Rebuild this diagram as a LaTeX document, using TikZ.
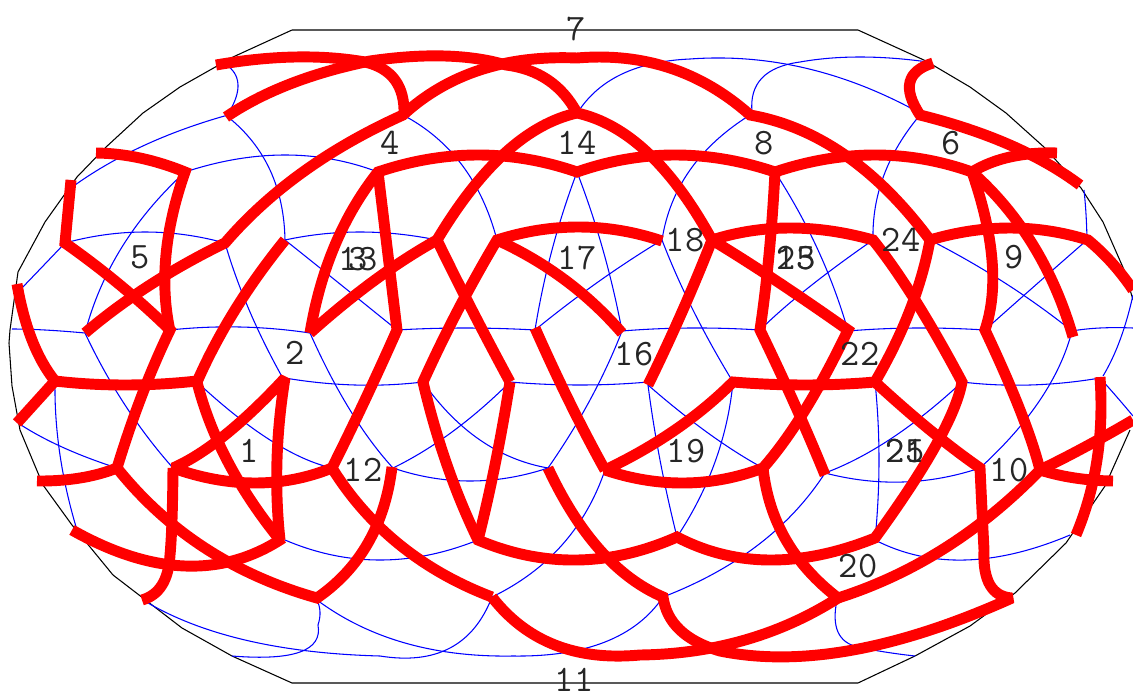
\documentclass[tikz,border=0pt]{standalone}
\usetikzlibrary{calc}
\newcommand\Q[3]{.. controls ($1.3333*(#2)-0.3333*(#3)$) and ($1.3333*(#2)-0.3333*(#1)$) .. (#3)}
\newcommand\bluearc[3]{\draw[bl] (#1) \Q{#1}{#2}{#3};}
\tikzset{
 rd/.style={draw=red,line width=8.2pt,line join=miter,miter limit=2},
 bl/.style={draw=blue,line width=0.8pt},
 outl/.style={draw=black,line width=0.8pt},
 lab/.style={font=\fontsize{28}{30}\selectfont\ttfamily,text=black!85,inner sep=0pt}
}
\begin{document}
\begin{tikzpicture}[x=0.75pt,y=-0.75pt]
\useasboundingbox (0,0) rectangle (1133,693);
% outline
\draw[outl] (292,30)--(858,30)--(926,61)--(970,87)--(1006,113)--(1045,148)--(1081,188)--(1103,222)--(1125,272)--(1133,300);
\draw[outl] (292,30)--(233,57)--(180,87)--(143,113)--(105,148)--(77,177)--(45,222)--(18,272)--(10,330)--(9,343)--(12,386)--(20,430)--(43,485)--(72,525)--(113,575)--(182,628)--(232,656)--(292,683)--(858,683)--(915,656)--(970,626)--(1015,593)--(1066,543)--(1105,486)--(1130,430);
% blue net
\bluearc{12,329}{45,330}{85,333}
\bluearc{170,330}{240,327}{310,333}
\bluearc{397,330}{465,328}{535,330}
\bluearc{622,331}{690,328}{760,330}
\bluearc{848,331}{915,328}{985,330}
\bluearc{1072,331}{1100,328}{1133,328}
\bluearc{285,378}{355,385}{423,382}
\bluearc{510,382}{580,385}{648,382}
\bluearc{962,382}{1030,385}{1100,378}
\bluearc{65,243}{145,232}{225,243}
\bluearc{285,240}{360,232}{437,240}
\bluearc{185,172}{285,155}{378,172}
\bluearc{75,185}{145,145}{228,115}
\bluearc{403,115}{462,165}{497,240}
\bluearc{228,117}{270,170}{285,240}
\bluearc{226,117}{238,87}{228,66}
\bluearc{577,172}{552,250}{535,330}
\bluearc{577,172}{603,250}{622,331}
\bluearc{662,240}{598,282}{535,330}
\bluearc{662,240}{693,310}{733,382}
\bluearc{775,172}{818,250}{848,331}
\bluearc{873,240}{808,288}{760,330}
\bluearc{920,115}{884,175}{873,240}
\bluearc{930,240}{1005,283}{1072,331}
\bluearc{1087,240}{1030,290}{985,330}
\bluearc{1087,240}{1086,214}{1084,190}
\draw[bl] (578,112) \Q{578,112}{622,74}{690,59} \Q{690,59}{805,68}{918,112};
\draw[bl] (752,112) \Q{752,112}{762,78}{800,62} \Q{800,62}{860,57}{928,62};
\bluearc{85,333}{122,247}{185,172}
\bluearc{65,243}{44,265}{20,290}
\bluearc{225,243}{250,312}{285,382}
\bluearc{285,240}{335,280}{397,330}
\bluearc{423,382}{480,440}{548,468}
\bluearc{510,382}{452,432}{393,468}
\bluearc{393,468}{470,481}{548,468}
\bluearc{622,331}{590,400}{548,468}
\bluearc{605,470}{562,545}{492,597}
\bluearc{285,540}{380,560}{478,540}
\bluearc{332,468}{270,440}{197,382}
\bluearc{310,333}{350,410}{393,468}
\bluearc{85,333}{125,405}{173,468}
\bluearc{117,468}{62,447}{18,423}
\bluearc{55,382}{60,455}{77,530}
\draw[bl] (143,600) \Q{143,600}{245,640}{380,656} \Q{380,656}{450,648}{492,597};
\draw[bl] (232,656) \Q{232,656}{300,652}{318,625} \Q{318,625}{320,612}{317,600};
\draw[bl] (317,600) \Q{317,600}{405,643}{513,656} \Q{513,656}{605,642}{663,597};
\bluearc{648,385}{660,460}{677,537}
\bluearc{733,382}{715,462}{677,537}
\bluearc{648,385}{708,433}{763,468}
\bluearc{663,597}{758,545}{825,473}
\bluearc{825,473}{903,482}{980,468}
\bluearc{825,473}{892,438}{962,382}
\bluearc{875,382}{879,460}{875,540}
\bluearc{875,540}{965,560}{1070,535}
\draw[bl] (837,600) \Q{837,600}{838,632}{858,647} \Q{858,647}{885,652}{915,656};
\bluearc{1100,378}{1116,396}{1133,416}
\bluearc{1133,295}{1120,340}{1103,376}
\bluearc{1072,331}{1040,400}{980,468}
\bluearc{750,115}{690,170}{662,240}
% red net
\draw[rd] (216,65) \Q{216,65}{295,57}{365,62} \Q{365,62}{395,80}{404,115};
\draw[rd] (226,117) \Q{226,117}{290,84}{370,61} \Q{370,61}{445,56}{506,65} \Q{506,65}{548,80}{577,113};
\draw[rd] (85,333) \Q{85,333}{150,285}{225,243} \Q{225,243}{303,172}{403,115} \Q{403,115}{480,70}{577,58} \Q{577,58}{670,68}{750,115} \Q{750,115}{845,155}{930,240} \Q{930,240}{910,310}{875,382};
\draw[rd] (310,333) \Q{310,333}{375,280}{437,240} \Q{437,240}{505,153}{577,113} \Q{577,113}{648,153}{712,240} \Q{712,240}{682,312}{648,385};
\draw[rd] (662,241) \Q{662,241}{580,227}{497,240} \Q{497,240}{458,310}{423,382} \Q{423,382}{447,465}{478,540} \Q{478,540}{577,560}{677,537} \Q{677,537}{770,560}{875,538} \Q{875,538}{936,445}{962,382} \Q{962,382}{915,300}{873,240} \Q{873,240}{790,228}{712,240} \Q{712,240}{775,280}{848,330} \Q{848,330}{805,410}{763,468} \Q{763,468}{685,483}{605,470} \Q{605,470}{675,430}{733,382} \Q{733,382}{805,385}{875,382} \Q{875,382}{930,430}{980,468} \Q{980,468}{982,510}{984,550} \Q{984,550}{990,585}{1012,598} \Q{1012,598}{853,650}{720,651} \Q{720,651}{680,630}{663,597} \Q{663,597}{600,550}{548,468};
\draw[rd] (930,240) \Q{930,240}{1010,228}{1088,240} \Q{1088,240}{1112,263}{1133,290};
\draw[rd] (497,240) \Q{497,240}{565,280}{622,333};
\draw[rd] (605,470) \Q{605,470}{570,403}{535,328};
\draw[rd] (492,597) \Q{492,597}{555,645}{640,655} \Q{640,655}{745,640}{838,598} \Q{838,598}{786,540}{763,468};
\draw[rd] (838,598) \Q{838,598}{945,548}{1040,470} \Q{1040,470}{1085,447}{1133,420};
\draw[rd] (1113,481) \Q{1113,481}{1075,478}{1040,470} \Q{1040,470}{1020,410}{985,330} \Q{985,330}{992,260}{972,172} \Q{972,172}{1033,245}{1073,337};
\draw[rd] (1057,153) \Q{1057,153}{1010,157}{972,172} \Q{972,172}{875,155}{775,172} \Q{775,172}{675,155}{577,172} \Q{577,172}{478,155}{378,172} \Q{378,172}{335,245}{310,333};
\draw[rd] (378,172) \Q{378,172}{388,255}{397,330} \Q{397,330}{365,400}{332,468} \Q{332,468}{255,483}{173,468} \Q{173,468}{225,435}{285,378} \Q{285,378}{277,460}{280,540} \Q{280,540}{228,462}{197,382} \Q{197,382}{235,310}{285,240};
\draw[rd] (775,172) \Q{775,172}{769,255}{760,330} \Q{760,330}{795,405}{825,475};
\draw[rd] (197,381) \Q{197,381}{125,385}{55,381} -- (17,423);
\draw[rd] (17,284) \Q{17,284}{32,340}{55,381};
\draw[rd] (117,468) \Q{117,468}{142,395}{170,330} \Q{170,330}{120,285}{65,243} -- (71,180);
\draw[rd] (170,331) \Q{170,331}{166,255}{185,172} \Q{185,172}{140,158}{96,153};
\draw[rd] (37,481) \Q{37,481}{80,478}{117,468} \Q{117,468}{205,548}{317,598} \Q{317,598}{368,543}{392,467};
\draw[rd] (173,468) \Q{173,468}{172,520}{170,555} \Q{170,555}{162,585}{142,600};
\draw[rd] (72,530) \Q{72,530}{185,566}{283,538};
\draw[rd] (332,468) \Q{332,468}{400,545}{492,597};
\draw[rd] (510,382) \Q{510,382}{495,465}{478,540};
\draw[rd] (510,382) \Q{510,382}{472,310}{437,240};
\draw[rd] (1100,377) \Q{1100,377}{1097,460}{1076,535};
\draw[rd] (1080,185) \Q{1080,185}{1010,145}{920,115} \Q{920,115}{910,82}{933,63};
% labels
\node[lab] (n1) at (249,451) {1};
\node[lab] (n2) at (295,353) {2};
\node[lab] (n3) at (358,259) {3};
\node[lab] (n13) at (358,259) {13};
\node[lab] (n4) at (390,143) {4};
\node[lab] (n5) at (140,257) {5};
\node[lab] (n6) at (951,143) {6};
\node[lab] (n7) at (576,29) {7};
\node[lab] (n8) at (764,143) {8};
\node[lab] (n9) at (1014,257) {9};
\node[lab] (n10) at (1009,470) {10};
\node[lab] (n11) at (574,680) {11};
\node[lab] (n12) at (363,470) {12};
\node[lab] (n14) at (577,143) {14};
\node[lab] (n15) at (796,258) {15};
\node[lab] (n23) at (796,258) {23};
\node[lab] (n16) at (634,354) {16};
\node[lab] (n17) at (577,258) {17};
\node[lab] (n18) at (685,240) {18};
\node[lab] (n19) at (686,451) {19};
\node[lab] (n20) at (858,566) {20};
\node[lab] (n21) at (905,451) {21};
\node[lab] (n25) at (905,451) {25};
\node[lab] (n22) at (860,354) {22};
\node[lab] (n24) at (901,240) {24};
\end{tikzpicture}
\end{document}
